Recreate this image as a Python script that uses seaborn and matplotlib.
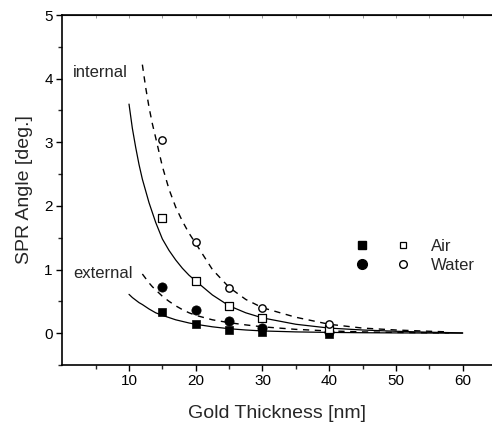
import numpy as np
import pandas as pd
import matplotlib
matplotlib.use("Agg")
import matplotlib.pyplot as plt
import seaborn as sns
from matplotlib.legend_handler import HandlerTuple
from matplotlib.lines import Line2D

# measured points (gold thickness in nm)
thick = [15, 20, 25, 30, 40]
ext_air = [0.34, 0.14, 0.05, 0.02, -0.02]
ext_water = [0.72, 0.36, 0.19, 0.08, 0.02]
int_air = [1.81, 0.82, 0.43, 0.24, 0.07]
int_water = [3.04, 1.43, 0.71, 0.40, 0.15]

# fit curves
fit_x_a = [10, 10.5, 11, 11.5, 12, 13, 14, 15, 16, 17, 18, 19, 20, 22.5, 25, 27.5, 30, 35, 40, 45, 50, 55, 60]
fit_int_air = [3.60, 3.22, 2.92, 2.65, 2.42, 2.05, 1.74, 1.48, 1.30, 1.15, 1.02, 0.91, 0.82, 0.60, 0.43, 0.32, 0.24, 0.14, 0.08, 0.05, 0.03, 0.015, 0.005]
fit_ext_air = [0.61, 0.56, 0.52, 0.48, 0.45, 0.38, 0.32, 0.28, 0.245, 0.21, 0.185, 0.16, 0.14, 0.10, 0.07, 0.05, 0.035, 0.02, 0.012, 0.007, 0.004, 0.002, 0.0]

fit_x_w = [12, 12.5, 13, 13.5, 14, 15, 16, 17, 18, 19, 20, 22.5, 25, 27.5, 30, 35, 40, 45, 50, 55, 58]
fit_int_water = [4.22, 3.86, 3.55, 3.29, 3.07, 2.62, 2.26, 1.98, 1.76, 1.57, 1.41, 1.00, 0.72, 0.53, 0.40, 0.25, 0.14, 0.08, 0.05, 0.03, 0.02]
fit_ext_water = [0.93, 0.86, 0.79, 0.73, 0.68, 0.58, 0.50, 0.43, 0.37, 0.32, 0.28, 0.21, 0.165, 0.13, 0.10, 0.06, 0.035, 0.02, 0.012, 0.006, 0.004]

sns.set_style("ticks")
plt.rcParams["font.family"] = ["Liberation Sans", "DejaVu Sans"]

fig = plt.figure(figsize=(4.92, 4.25), dpi=100)
ax = fig.add_axes([0.1266, 0.1412, 0.8734, 0.8235])

dash = (0, (4.5, 4))
sns.lineplot(x=fit_x_a, y=fit_int_air, ax=ax, color="black", lw=0.9)
sns.lineplot(x=fit_x_a, y=fit_ext_air, ax=ax, color="black", lw=0.9)
sns.lineplot(x=fit_x_w, y=fit_int_water, ax=ax, color="black", lw=1.0, linestyle=dash)
sns.lineplot(x=fit_x_w, y=fit_ext_water, ax=ax, color="black", lw=1.0, linestyle=dash)

sns.scatterplot(x=thick, y=ext_air, ax=ax, marker="s", s=34, color="black", edgecolor="black", zorder=5)
sns.scatterplot(x=thick, y=ext_water, ax=ax, marker="o", s=44, color="black", edgecolor="black", zorder=5)
sns.scatterplot(x=thick, y=int_air, ax=ax, marker="s", s=26, facecolor="white", edgecolor="black", linewidth=0.9, zorder=5)
sns.scatterplot(x=thick, y=int_water, ax=ax, marker="o", s=28, facecolor="white", edgecolor="black", linewidth=1.0, zorder=5)

ax.text(1.6, 4.09, "internal", fontsize=12, va="center", ha="left")
ax.text(1.6, 0.93, "external", fontsize=12, va="center", ha="left")

ax.set_xlim(0, 64.4)
ax.set_ylim(-0.5, 5)
ax.set_xticks([10, 20, 30, 40, 50, 60])
ax.set_xticks(np.arange(5, 65, 5), minor=True)
ax.set_yticks([0, 1, 2, 3, 4, 5])
ax.set_yticks(np.arange(-0.5, 5, 0.5), minor=True)
ax.tick_params(which="major", length=4.3, width=1, direction="out", labelsize=11, colors="black", pad=2.5)
ax.tick_params(which="minor", length=3, width=1, direction="out")
ax.spines["right"].set_visible(False)
for s in ["left", "bottom", "top"]:
    ax.spines[s].set_linewidth(1.2)
    ax.spines[s].set_color("black")

top = ax.secondary_xaxis("top")
top.set_xticks(np.arange(5, 65, 5))
top.tick_params(direction="in", length=2, width=0.6, labeltop=False, colors="#888888")

ax.set_xlabel("Gold Thickness [nm]", fontsize=14, labelpad=12)
ax.set_ylabel("SPR Angle [deg.]", fontsize=14, labelpad=8)

h_air = (Line2D([], [], marker="s", ls="none", color="black", ms=6),
         Line2D([], [], marker="s", ls="none", mfc="white", mec="black", ms=5, mew=0.9))
h_water = (Line2D([], [], marker="o", ls="none", color="black", ms=7),
           Line2D([], [], marker="o", ls="none", mfc="white", mec="black", ms=5.5, mew=1.0))
ax.legend([h_air, h_water], ["Air", "Water"], handler_map={tuple: HandlerTuple(ndivide=None, pad=1.5)},
          frameon=False, fontsize=12, handlelength=3.38, handletextpad=1.21, labelspacing=0.25,
          loc="center left", bbox_to_anchor=(0.644, 0.312))

fig.savefig("out.png", dpi=100)
